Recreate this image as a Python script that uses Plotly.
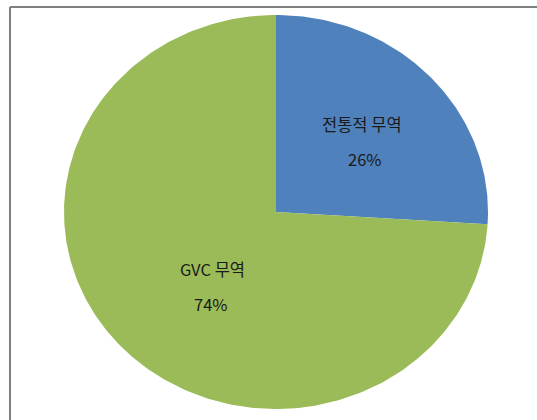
import numpy as np
import plotly.graph_objects as go

# Trade composition: traditional trade vs. GVC trade (share, %)
categories = ["전통적 무역", "GVC 무역"]
shares = [26, 74]
colors = ["#4F81BD", "#9BBB59"]

W, H = 537, 420

# Pie geometry in pixel units (slightly wider than tall)
cx, cy = 276, 212
rx, ry = 212, 197

fig = go.Figure()

# Each slice is a filled wedge; it starts at 12 o'clock and runs clockwise
total = float(sum(shares))
start = 0.0
for name, val, col in zip(categories, shares, colors):
    end = start + val / total
    t = np.linspace(start, end, max(int(400 * (end - start)), 8)) * 2 * np.pi
    xs = np.concatenate([[cx], cx + rx * np.sin(t), [cx]])
    ys = np.concatenate([[cy], cy - ry * np.cos(t), [cy]])
    fig.add_trace(go.Scatter(
        x=xs, y=ys, mode="lines", fill="toself", fillcolor=col,
        line=dict(width=0, color=col), name=name,
        hoverinfo="text", text=f"{name}: {val}%", showlegend=False,
    ))
    start = end

# Slice labels: category name with its percentage underneath
label_pos = [
    ((362, 124), (365, 159)),
    ((212, 269), (211, 304)),
]
font = dict(family="Noto Sans CJK KR, sans-serif", size=16.5, color="#1a1a1a")
for name, val, (p_name, p_val) in zip(categories, shares, label_pos):
    fig.add_annotation(x=p_name[0], y=p_name[1], text=name, showarrow=False,
                       font=font, xanchor="center", yanchor="middle")
    fig.add_annotation(x=p_val[0], y=p_val[1], text=f"{val}%", showarrow=False,
                       font=font, xanchor="center", yanchor="middle")

# Frame around the chart area (top and left edges fall inside the page)
frame = dict(color="#808080", width=2)
fig.add_shape(type="line", xref="paper", yref="paper",
              x0=10 / W, x1=1.02, y0=1 - 7 / H, y1=1 - 7 / H, line=frame)
fig.add_shape(type="line", xref="paper", yref="paper",
              x0=10 / W, x1=10 / W, y0=1 - 7 / H, y1=-0.02, line=frame)

fig.update_layout(
    width=W,
    height=H,
    margin=dict(l=0, r=0, t=0, b=0),
    paper_bgcolor="white",
    plot_bgcolor="white",
    xaxis=dict(range=[0, W], visible=False, fixedrange=True),
    yaxis=dict(range=[H, 0], visible=False, fixedrange=True),
)

fig.write_html("out.html")
